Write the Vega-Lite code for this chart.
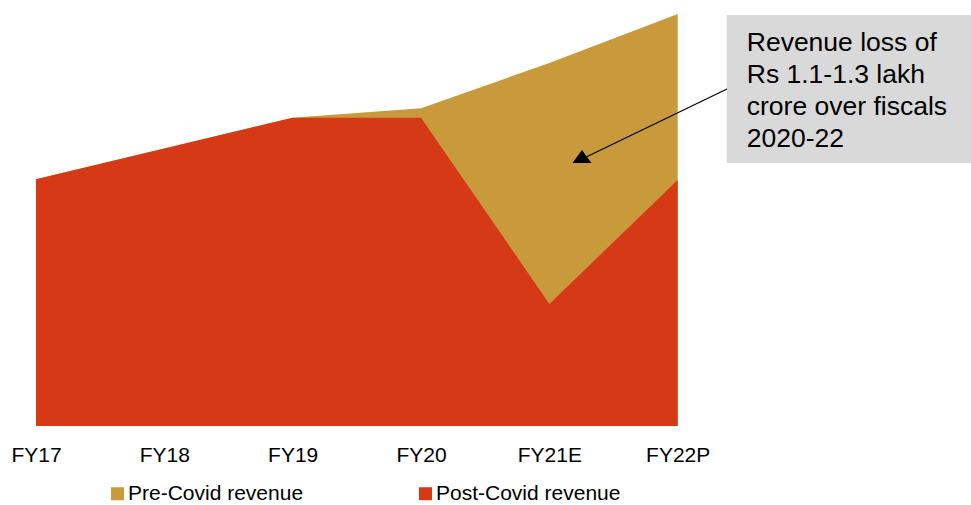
{
  "$schema": "https://vega.github.io/schema/vega-lite/v6.json",
  "width": 971,
  "height": 426,
  "autosize": {"type": "none"},
  "padding": {"left": 0, "top": 0, "right": 0, "bottom": 79},
  "background": "white",
  "config": {
    "view": {"stroke": null},
    "font": "Liberation Sans"
  },
  "datasets": {
    "pre": [
      {"i": 0, "v": 246.7, "series": "Pre-Covid revenue"},
      {"i": 1, "v": 277.5, "series": "Pre-Covid revenue"},
      {"i": 2, "v": 308.3, "series": "Pre-Covid revenue"},
      {"i": 3, "v": 317.7, "series": "Pre-Covid revenue"},
      {"i": 4, "v": 363, "series": "Pre-Covid revenue"},
      {"i": 5, "v": 412, "series": "Pre-Covid revenue"}
    ],
    "post": [
      {"i": 0, "v": 246.7, "series": "Post-Covid revenue"},
      {"i": 1, "v": 277.5, "series": "Post-Covid revenue"},
      {"i": 2, "v": 308.3, "series": "Post-Covid revenue"},
      {"i": 3, "v": 308.3, "series": "Post-Covid revenue"},
      {"i": 4, "v": 122, "series": "Post-Covid revenue"},
      {"i": 5, "v": 246, "series": "Post-Covid revenue"}
    ],
    "box": [{"x": 5.382, "x2": 7.2853, "y": 411, "y2": 263}],
    "note": [{"x": 5.538, "y": 375.3, "t": "Revenue loss of\nRs 1.1-1.3 lakh\ncrore over fiscals\n2020-22"}],
    "arrow": [{"x": 5.384, "y": 337, "x2": 4.291, "y2": 269.3}],
    "head": [{"x": 4.254, "y": 266.5}]
  },
  "layer": [
    {
      "data": {"name": "pre"},
      "mark": {"type": "area", "interpolate": "linear"},
      "encoding": {
        "x": {
          "field": "i", "type": "quantitative",
          "scale": {"domain": [-0.2805, 7.2853], "nice": false, "zero": false},
          "axis": {
            "values": [0, 1, 2, 3, 4, 5],
            "labelExpr": "['FY17','FY18','FY19','FY20','FY21E','FY22P'][datum.value]",
            "title": null, "domain": false, "ticks": false, "grid": false,
            "labelFlush": false, "labelOverlap": false, "labelPadding": 18,
            "labelFontSize": 21, "labelColor": "#000000", "labelFont": "Liberation Sans"
          }
        },
        "y": {
          "field": "v", "type": "quantitative", "stack": null,
          "scale": {"domain": [0, 426], "nice": false},
          "axis": null
        },
        "color": {
          "field": "series", "type": "nominal",
          "scale": {"domain": ["Pre-Covid revenue", "Post-Covid revenue"], "range": ["#C89A3C", "#D53915"]},
          "legend": {
            "title": null, "orient": "none", "legendX": 107, "legendY": 483,
            "direction": "horizontal", "symbolType": "square", "symbolSize": 169,
            "symbolStrokeWidth": 0, "symbolOpacity": 1, "labelFontSize": 21, "labelFont": "Liberation Sans",
            "labelColor": "#000000", "labelOffset": 0, "columnPadding": 111, "padding": 0, "labelLimit": 400
          }
        }
      }
    },
    {
      "data": {"name": "post"},
      "mark": {"type": "area", "interpolate": "linear"},
      "encoding": {
        "x": {"field": "i", "type": "quantitative"},
        "y": {"field": "v", "type": "quantitative", "stack": null},
        "color": {"field": "series", "type": "nominal"}
      }
    },
    {
      "data": {"name": "box"},
      "mark": {"type": "rect", "color": "#D9D9D9"},
      "encoding": {
        "x": {"field": "x", "type": "quantitative"},
        "x2": {"field": "x2"},
        "y": {"field": "y", "type": "quantitative"},
        "y2": {"field": "y2"}
      }
    },
    {
      "data": {"name": "note"},
      "mark": {"type": "text", "align": "left", "baseline": "alphabetic", "lineBreak": "\n", "lineHeight": 32, "fontSize": 26.5, "color": "#000000", "font": "Liberation Sans"},
      "encoding": {
        "x": {"field": "x", "type": "quantitative"},
        "y": {"field": "y", "type": "quantitative"},
        "text": {"field": "t"}
      }
    },
    {
      "data": {"name": "arrow"},
      "mark": {"type": "rule", "color": "#000000", "strokeWidth": 1.2},
      "encoding": {
        "x": {"field": "x", "type": "quantitative"},
        "y": {"field": "y", "type": "quantitative"},
        "x2": {"field": "x2"},
        "y2": {"field": "y2"}
      }
    },
    {
      "data": {"name": "head"},
      "mark": {"type": "point", "shape": "M0,-1L1,0.37L-1,0.37Z", "filled": true, "color": "#000000", "size": 361, "opacity": 1},
      "encoding": {
        "x": {"field": "x", "type": "quantitative"},
        "y": {"field": "y", "type": "quantitative"}
      }
    }
  ]
}
